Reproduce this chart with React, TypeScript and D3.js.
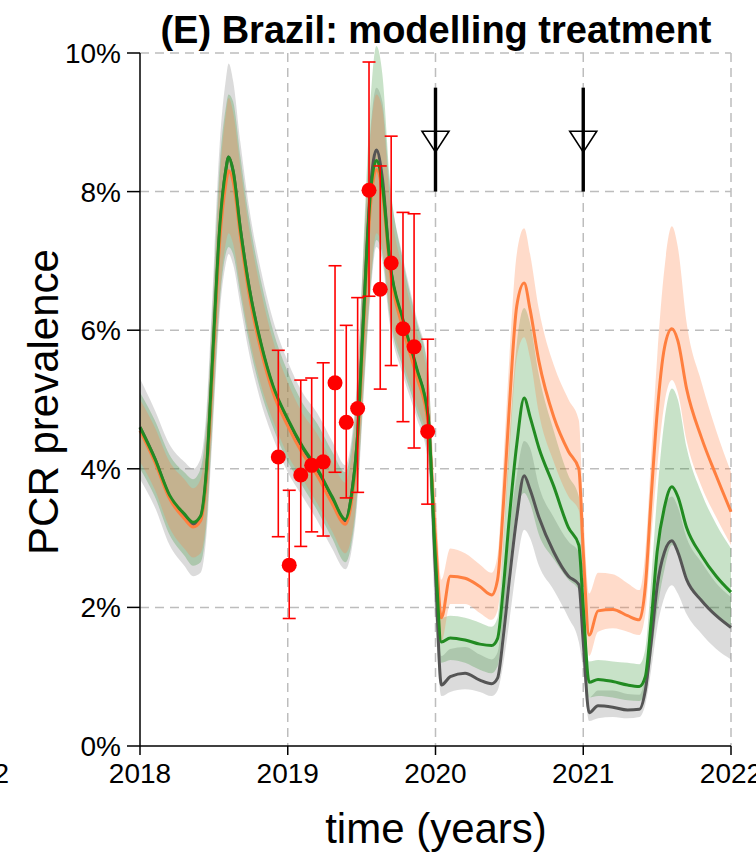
import React from "react";
import * as d3 from "d3";

// Model time grid (years)
const TIME = [
  2018.0, 2018.1, 2018.2, 2018.3, 2018.36, 2018.41, 2018.45, 2018.49, 2018.54, 2018.58,
  2018.6, 2018.63, 2018.68, 2018.74, 2018.82, 2018.9, 2019.0, 2019.1, 2019.2, 2019.3,
  2019.39, 2019.43, 2019.47, 2019.51, 2019.56, 2019.6, 2019.64, 2019.69, 2019.78, 2019.87,
  2019.95, 2020.0, 2020.04, 2020.1, 2020.2, 2020.3, 2020.38, 2020.42, 2020.46, 2020.5,
  2020.55, 2020.6, 2020.64, 2020.7, 2020.8, 2020.9, 2020.97, 2021.0, 2021.04, 2021.1,
  2021.2, 2021.3, 2021.38, 2021.42, 2021.46, 2021.5, 2021.55, 2021.6, 2021.64, 2021.7,
  2021.8, 2021.9, 2022.0,
];

// Scenario: no treatment (grey)
const GREY_MEAN = [
  4.6, 4.15, 3.6, 3.32, 3.2, 3.3, 3.95, 5.5, 7.45, 8.3, 8.5, 8.3, 7.45, 6.6, 5.78, 5.18, 4.7, 4.3, 3.98, 3.58,
  3.25, 3.6, 4.4, 6.1, 8.05, 8.6, 8.2, 7.0, 6.12, 5.45, 4.75,
  2.5, 0.88, 1.0, 1.05, 0.95, 0.9, 0.98, 1.6, 2.4, 3.3, 3.9, 3.7, 3.3, 2.8, 2.45, 2.33, 1.5, 0.48, 0.58,
  0.56, 0.52, 0.53, 0.8, 1.5, 2.3, 2.8, 2.96, 2.8, 2.4, 2.1, 1.88, 1.71,
];
const GREY_LO = [
  3.85, 3.45, 2.9, 2.6, 2.45, 2.5, 3.05, 4.45, 6.25, 6.95, 7.1, 6.95, 6.35, 5.65, 4.95, 4.45, 3.95, 3.6, 3.25, 2.85,
  2.55, 2.8, 3.5, 4.9, 6.5, 7.2, 7.0, 6.1, 5.35, 4.75, 4.1,
  1.8, 0.72, 0.78, 0.82, 0.78, 0.72, 0.8, 1.2, 1.8, 2.6, 3.12, 3.0, 2.6, 2.25, 1.85, 1.5, 1.1, 0.36, 0.4,
  0.42, 0.4, 0.42, 0.6, 1.1, 1.7, 2.15, 2.32, 2.2, 1.9, 1.62, 1.4, 1.25,
];
const GREY_HI = [
  5.3, 4.85, 4.35, 4.1, 4.0, 4.15, 4.85, 6.5, 8.7, 9.6, 9.85, 9.6, 8.7, 7.75, 6.85, 6.15, 5.55, 5.1, 4.8, 4.4,
  4.05, 4.4, 5.3, 7.0, 8.9, 9.5, 9.3, 8.1, 7.05, 6.2, 5.45,
  3.0, 1.3, 1.4, 1.43, 1.32, 1.25, 1.35, 2.1, 3.1, 3.9, 4.4, 4.3, 3.75, 3.3, 2.95, 2.8, 1.9, 0.7, 0.8,
  0.8, 0.75, 0.74, 1.05, 1.95, 2.85, 3.45, 3.6, 3.45, 3.0, 2.65, 2.35, 2.15,
];

// Scenario: treatment (green)
const GREEN_MEAN = [
  4.6, 4.15, 3.62, 3.35, 3.23, 3.32, 4.0, 5.55, 7.5, 8.3, 8.5, 8.3, 7.45, 6.6, 5.8, 5.2, 4.72, 4.32, 4.0, 3.6,
  3.27, 3.6, 4.4, 6.05, 7.98, 8.45, 8.1, 7.0, 6.15, 5.47, 4.75,
  2.7, 1.5, 1.56, 1.53, 1.47, 1.45, 1.55, 2.3, 3.3, 4.35, 5.02, 4.75, 4.3, 3.75, 3.15, 2.9, 2.0, 0.92, 0.96,
  0.93, 0.88, 0.86, 1.0, 1.8, 2.8, 3.45, 3.74, 3.6, 3.15, 2.75, 2.45, 2.22,
];
const GREEN_LO = [
  4.0, 3.6, 3.05, 2.75, 2.6, 2.65, 3.2, 4.6, 6.4, 7.1, 7.2, 7.1, 6.5, 5.8, 5.1, 4.6, 4.1, 3.75, 3.4, 3.0,
  2.65, 2.9, 3.6, 5.0, 6.6, 7.3, 7.1, 6.2, 5.45, 4.85, 4.2,
  2.2, 1.2, 1.24, 1.2, 1.1, 1.05, 1.15, 1.8, 2.6, 3.4, 3.65, 3.5, 3.05, 2.7, 2.4, 2.25, 1.4, 0.7, 0.72,
  0.7, 0.66, 0.65, 0.75, 1.3, 1.95, 2.55, 2.9, 2.8, 2.45, 2.1, 1.9, 1.7,
];
const GREEN_HI = [
  5.1, 4.7, 4.2, 3.95, 3.85, 4.0, 4.7, 6.3, 8.4, 9.2, 9.4, 9.3, 8.5, 7.6, 6.7, 6.0, 5.4, 4.95, 4.65, 4.25,
  3.95, 4.3, 5.2, 7.1, 9.3, 10.1, 9.7, 8.2, 7.0, 6.15, 5.4,
  3.2, 1.85, 1.88, 1.85, 1.78, 1.72, 1.85, 3.0, 4.4, 5.8, 6.32, 6.1, 5.35, 4.55, 3.9, 3.6, 2.6, 1.22, 1.24,
  1.22, 1.2, 1.18, 1.4, 2.4, 3.6, 4.7, 5.16, 5.0, 4.3, 3.65, 3.2, 2.85,
];

// Scenario: orange
const ORANGE_MEAN = [
  4.55, 4.1, 3.57, 3.28, 3.16, 3.25, 3.9, 5.4, 7.3, 8.1, 8.3, 8.15, 7.35, 6.5, 5.7, 5.1, 4.62, 4.22, 3.9, 3.5,
  3.2, 3.5, 4.3, 5.9, 7.8, 8.32, 8.0, 6.9, 6.02, 5.35, 4.65,
  3.0, 1.85, 2.45, 2.42, 2.3, 2.18, 2.4, 3.5, 4.9, 6.35, 6.68, 6.3, 5.55, 4.75, 4.25, 4.0, 2.8, 1.6, 1.95,
  1.97, 1.88, 1.82, 2.3, 3.6, 4.8, 5.75, 6.02, 5.85, 5.15, 4.45, 3.9, 3.38,
];
const ORANGE_LO = [
  4.1, 3.7, 3.15, 2.85, 2.72, 2.78, 3.3, 4.7, 6.5, 7.25, 7.4, 7.25, 6.6, 5.9, 5.2, 4.7, 4.2, 3.85, 3.5, 3.1,
  2.78, 3.0, 3.7, 5.1, 6.7, 7.4, 7.2, 6.3, 5.55, 4.95, 4.3,
  2.6, 1.5, 2.05, 2.05, 1.92, 1.82, 1.95, 2.9, 4.2, 5.6, 5.9, 5.6, 4.8, 4.1, 3.6, 3.4, 2.4, 1.3, 1.65,
  1.7, 1.65, 1.6, 1.9, 3.0, 4.0, 4.95, 5.28, 5.1, 4.4, 3.75, 3.3, 2.9,
];
const ORANGE_HI = [
  5.0, 4.6, 4.1, 3.85, 3.72, 3.85, 4.55, 6.1, 8.2, 9.1, 9.35, 9.15, 8.35, 7.45, 6.55, 5.85, 5.25, 4.8, 4.5, 4.1,
  3.8, 4.15, 5.0, 6.8, 8.8, 9.4, 9.2, 7.9, 6.85, 6.0, 5.25,
  3.6, 2.4, 2.85, 2.78, 2.62, 2.5, 2.75, 4.1, 5.6, 7.1, 7.47, 7.1, 6.3, 5.5, 5.0, 4.7, 3.4, 2.2, 2.5,
  2.48, 2.35, 2.25, 2.8, 4.2, 5.6, 6.9, 7.5, 7.2, 6.1, 5.25, 4.55, 3.95,
];

// Survey observations with 95% intervals
const OBS_TIME = [2018.936, 2019.01, 2019.088, 2019.162, 2019.24, 2019.32, 2019.396, 2019.473, 2019.55, 2019.626, 2019.7, 2019.78, 2019.855, 2019.947];
const OBS_VALUE = [4.17, 2.61, 3.91, 4.05, 4.1, 5.24, 4.67, 4.87, 8.02, 6.59, 6.97, 6.02, 5.76, 4.54];
const OBS_LO = [3.02, 1.84, 2.88, 3.09, 3.03, 3.95, 3.58, 3.66, 6.49, 5.15, 5.49, 4.68, 4.3, 3.49];
const OBS_HI = [5.71, 3.69, 5.28, 5.31, 5.53, 6.93, 6.07, 6.47, 9.87, 8.37, 8.8, 7.7, 7.68, 5.87];

// Treatment rounds
const TREATMENT_YEARS = [2020, 2021];

const X_TICKS = [2018, 2019, 2020, 2021, 2022];
const Y_TICKS = [0, 2, 4, 6, 8, 10];

const FONT = "'Liberation Sans', Arial, Helvetica, sans-serif";

export default function App() {
  const W = 756;
  const H = 854;
  const x = d3.scaleLinear().domain([2018, 2022]).range([140, 731]);
  const y = d3.scaleLinear().domain([0, 10]).range([746, 53]);

  const area = (lo: number[], hi: number[]) =>
    d3
      .area<number>()
      .x((i) => x(TIME[i]))
      .y0((i) => y(lo[i]))
      .y1((i) => y(hi[i]))
      .curve(d3.curveMonotoneX)(d3.range(TIME.length)) as string;

  const line = (v: number[]) =>
    d3
      .line<number>()
      .x((i) => x(TIME[i]))
      .y((i) => y(v[i]))
      .curve(d3.curveMonotoneX)(d3.range(TIME.length)) as string;

  const series = [
    { lo: GREY_LO, hi: GREY_HI, mean: GREY_MEAN, band: "#7f7f7f", bandOp: 0.28, stroke: "#555555" },
    { lo: GREEN_LO, hi: GREEN_HI, mean: GREEN_MEAN, band: "#228B22", bandOp: 0.25, stroke: "#228B22" },
    { lo: ORANGE_LO, hi: ORANGE_HI, mean: ORANGE_MEAN, band: "#ff7f3f", bandOp: 0.28, stroke: "#ff7f3f" },
  ];
  const lineOrder = [series[0], series[2], series[1]];

  const grid = "#bdbdbd";

  return (
    <svg
      width={W}
      height={H}
      style={{ position: "absolute", left: 0, top: 0, background: "#fff" }}
      fontFamily={FONT}
    >
      {/* grid */}
      {Y_TICKS.filter((t) => t > 0).map((t) => (
        <line key={"gy" + t} x1={x(2018)} x2={x(2022)} y1={y(t)} y2={y(t)} stroke={grid} strokeWidth={1.5} strokeDasharray="9 6" />
      ))}
      {X_TICKS.filter((t) => t > 2018).map((t) => (
        <line key={"gx" + t} x1={x(t)} x2={x(t)} y1={y(10)} y2={y(0)} stroke={grid} strokeWidth={1.5} strokeDasharray="9 6" />
      ))}

      {/* uncertainty bands */}
      {series.map((s, i) => (
        <path key={"band" + i} d={area(s.lo, s.hi)} fill={s.band} fillOpacity={s.bandOp} stroke="none" />
      ))}

      {/* median trajectories */}
      {lineOrder.map((s, i) => (
        <path key={"line" + i} d={line(s.mean)} fill="none" stroke={s.stroke} strokeWidth={3} strokeLinejoin="round" />
      ))}

      {/* observations */}
      {OBS_TIME.map((t, i) => (
        <g key={"obs" + i} stroke="#ff0000" strokeWidth={1.6}>
          <line x1={x(t)} x2={x(t)} y1={y(OBS_LO[i])} y2={y(OBS_HI[i])} />
          <line x1={x(t) - 6.5} x2={x(t) + 6.5} y1={y(OBS_LO[i])} y2={y(OBS_LO[i])} />
          <line x1={x(t) - 6.5} x2={x(t) + 6.5} y1={y(OBS_HI[i])} y2={y(OBS_HI[i])} />
        </g>
      ))}
      {OBS_TIME.map((t, i) => (
        <circle key={"pt" + i} cx={x(t)} cy={y(OBS_VALUE[i])} r={7.5} fill="#ff0000" />
      ))}

      {/* treatment markers */}
      {TREATMENT_YEARS.map((t) => {
        const cx = x(t);
        const top = y(8.87);
        const apex = y(8.57);
        return (
          <g key={"tr" + t}>
            <line x1={cx} x2={cx} y1={y(9.5)} y2={y(8)} stroke="#000" strokeWidth={3.4} />
            <path d={`M${cx - 13.5},${top} L${cx + 13.5},${top} L${cx},${apex} Z`} fill="none" stroke="#000" strokeWidth={1.6} strokeLinejoin="miter" />
          </g>
        );
      })}

      {/* axes */}
      <line x1={x(2018)} x2={x(2018)} y1={y(10)} y2={y(0)} stroke="#000" strokeWidth={1.5} />
      <line x1={x(2018)} x2={x(2022)} y1={y(0)} y2={y(0)} stroke="#000" strokeWidth={1.5} />
      {Y_TICKS.map((t) => (
        <g key={"yt" + t}>
          <line x1={x(2018) - 13} x2={x(2018)} y1={y(t)} y2={y(t)} stroke="#000" strokeWidth={1.5} />
          <text x={121} y={y(t) + 10} textAnchor="end" fontSize={28} fill="#000">
            {t + "%"}
          </text>
        </g>
      ))}
      {X_TICKS.map((t) => (
        <g key={"xt" + t}>
          <line x1={x(t)} x2={x(t)} y1={y(0)} y2={y(0) + 9} stroke="#000" strokeWidth={1.5} />
          <text x={x(t)} y={783} textAnchor="middle" fontSize={28} fill="#000">
            {t}
          </text>
        </g>
      ))}
      <text x={9} y={783} textAnchor="end" fontSize={28} fill="#000">2022</text>

      {/* titles */}
      <text x={436} y={43} textAnchor="middle" fontSize={38} fontWeight="bold" fill="#000">
        (E) Brazil: modelling treatment
      </text>
      <text x={436} y={843} textAnchor="middle" fontSize={42} fill="#000">
        time (years)
      </text>
      <text transform="translate(58,402) rotate(-90)" textAnchor="middle" fontSize={42} fill="#000">
        PCR prevalence
      </text>
    </svg>
  );
}
